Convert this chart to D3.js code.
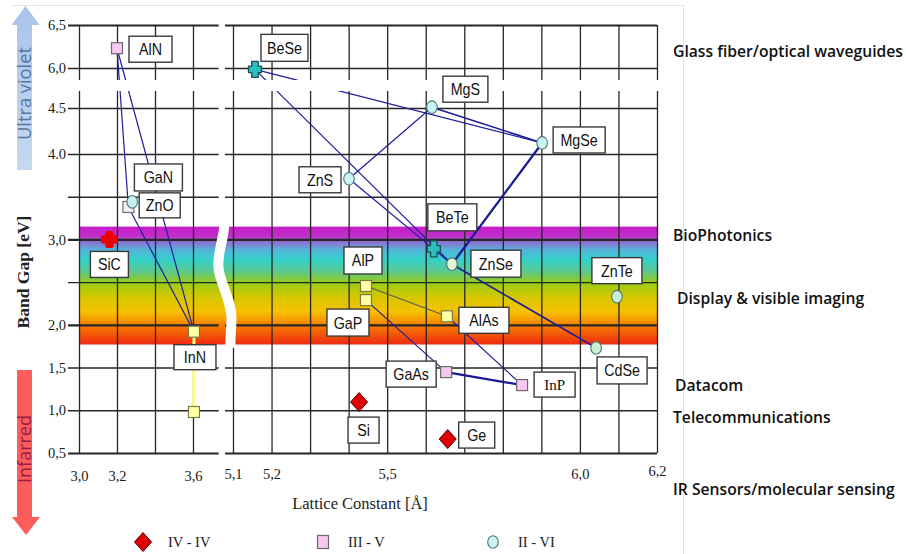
<!DOCTYPE html>
<html>
<head>
<meta charset="utf-8">
<script src="https://cdn.jsdelivr.net/npm/d3@7"></script>
<style>
  body { margin: 0; background: #fff; }
  svg { display: block; }
</style>
</head>
<body>
<svg id="chart" width="906" height="554"></svg>
<script>
// ---------------- data ----------------
const materialIds = ["AlN","GaN","ZnO","SiC","InN","InN_low","BeSe","MgS","MgSe","ZnS","BeTe","ZnSe","ZnTe","CdSe","AlP","GaP","AlAs","GaAs","InP","Si","Ge"];
const materialLabels = ["AlN","GaN","ZnO","SiC","InN","","BeSe","MgS","MgSe","ZnS","BeTe","ZnSe","ZnTe","CdSe","AlP","GaP","AlAs","GaAs","InP","Si","Ge"];
const latticeConstant = [3.20,3.26,3.28,3.16,3.605,3.605,5.157,5.616,5.902,5.401,5.621,5.668,6.096,6.042,5.445,5.445,5.655,5.653,5.85,5.427,5.657];
const bandGap = [6.23,3.38,3.44,3.00,1.92,0.98,5.95,4.53,4.12,3.71,2.89,2.71,2.33,1.73,2.455,2.29,2.10,1.447,1.295,1.096,0.663];
const group = ["III-V","III-V","II-VI","IV-IV","III-V","III-V","II-VI","II-VI","II-VI","II-VI","II-VI","II-VI","II-VI","II-VI","III-V","III-V","III-V","III-V","III-V","IV-IV","IV-IV"];

// ternary alloy tie lines between binaries
const alloyPairs = [
  ["AlN","GaN"],["AlN","InN"],["GaN","InN"],
  ["BeSe","MgSe"],["BeSe","ZnSe"],["MgS","MgSe"],["MgS","ZnS"],["ZnS","ZnSe"],
  ["MgSe","ZnSe"],["ZnSe","CdSe"],
  ["AlP","AlAs"],["GaP","GaAs"],["AlAs","InP"],["GaAs","InP"]
];
const bowingPair = ["InN","InN_low"];

const visibleBand = [1.77, 3.15];   // eV

const yTicks = [0.5,1.0,1.5,2.0,2.5,3.0,3.5,4.0,4.5,6.0,6.5];
const yTickLabels = ["0,5","1,0","1,5","2,0","","3,0","","4.0","4.5","6,0","6,5"];
const xTicksLeft = [3.0,3.2,3.4,3.6];
const xTickLabelsLeft = ["3,0","3,2","","3,6"];
const xTicksRight = [5.1,5.2,5.3,5.4,5.5,5.6,5.7,5.8,5.9,6.0,6.1,6.2];
const xTickLabelsRight = ["5,1","5,2","","","5,5","","","","","6,0","","6,2"];

const applications = ["Glass fiber/optical waveguides","BioPhotonics","Display & visible imaging","Datacom","Telecommunications","IR Sensors/molecular sensing"];
const legendGroups = ["IV - IV","III - V","II - VI"];

// ---------------- layout & styles ----------------
const SERIF = "'Liberation Serif', 'Times New Roman', serif";
const SANS = "'Liberation Sans', Arial, sans-serif";
const applicationLayout = [[673,57],[673,241],[677,304],[675,391],[673,423],[673,495]];
// label box: dx, dy (box centre from marker), width, height
const labelLayout = {
  AlN:[33.5,1,43,26], GaN:[30,-29.5,48,27], ZnO:[27.5,3.5,41,25], SiC:[0,25,38,26],
  InN:[1,25.5,42,25], BeSe:[29.5,-21.5,47,27], MgS:[33.5,-18,45,26], MgSe:[37,-3,52,26],
  ZnS:[-29,1,42,26], BeTe:[18.5,-31.5,49,27], ZnSe:[44,-0.5,50,27], ZnTe:[0,-26,50,26],
  AlP:[-3,-25.5,38,27], GaP:[-18,22.5,42,27], AlAs:[37,4,50,26], GaAs:[-35,2,50,26],
  InP:[32.5,-0.5,41,25], CdSe:[26,22.5,50,27], Si:[4.5,28,31,26], Ge:[29,-4,36,26]
};
const markerStyle = {
  AlN:["square","#f9c8f1","#6a6a6a"], GaN:["square","#f6eef6","#707070"],
  ZnO:["circle","#c6f1f1","#4e7474"], SiC:["blob","#ff0000","#ee0000"],
  InN:["square","#ffffa6","#7a7a48"], InN_low:["square","#ffffa6","#7a7a48"],
  BeSe:["cross","#2dbfbf","#1d4f4f"], BeTe:["cross","#2dbfbf","#1d4f4f"],
  MgS:["circle","#c8f4f4","#4e7474"], MgSe:["circle","#c8f4f4","#4e7474"],
  ZnS:["circle","#c8f4f4","#4e7474"], ZnSe:["circle","#e2f6d6","#4e7474"],
  ZnTe:["circle","#c9eed4","#4e7474"], CdSe:["circle","#c9eed4","#4e7474"],
  AlP:["square","#ffffa6","#7a7a48"], GaP:["square","#ffffa6","#7a7a48"],
  AlAs:["square","#ffffa6","#7a7a48"], GaAs:["square","#f9c8f1","#6a6a6a"],
  InP:["square","#f9c8f1","#6a6a6a"], Si:["diamond","#e00000","#4a0000"],
  Ge:["diamond","#e00000","#4a0000"]
};
const lineStyle = {
  "MgSe-ZnSe":["#1a1a96",2.3], "GaAs-InP":["#1a1a96",2.2], "ZnSe-CdSe":["#1a1a96",1.6],
  "MgS-MgSe":["#1a1a96",1.5], "AlP-AlAs":["#5a5a5a",1.1]
};

// ---------------- scales ----------------
const svg = d3.select("#chart");
const xL = d3.scaleLinear().domain([3.0, 3.6]).range([79, 193]);
const xR = d3.scaleLinear().domain([5.1, 6.2]).range([233, 657]);
// broken energy axis: compressed between 4.5 and 6.0 eV
const y = d3.scaleLinear().domain([0.5, 4.0, 4.5, 6.0, 6.5]).range([453, 154, 108, 68, 25]);
const xOf = a => a < 4 ? xL(a) : xR(a);

const byId = {};
materialIds.forEach((id, i) => byId[id] = { id, label: materialLabels[i], a: latticeConstant[i], e: bandGap[i], g: group[i] });
const px = id => xOf(byId[id].a);
const py = id => y(byId[id].e);

// fit a text element to a given length by scaling its font size
function fitFont(sel, basePx, targetLen) {
  sel.style("font-size", basePx + "px");
  const n = sel.node().getComputedTextLength();
  if (n > 0) sel.style("font-size", (basePx * targetLen / n) + "px");
  return sel;
}

// ---------------- frame ----------------
svg.append("line").attr("x1",12).attr("x2",683).attr("y1",5.5).attr("y2",5.5).attr("stroke","#e4e4e4");
svg.append("line").attr("x1",683.5).attr("x2",683.5).attr("y1",5).attr("y2",554).attr("stroke","#e4e4e4");

// ---------------- visible spectrum band ----------------
const defs = svg.append("defs");
const grad = defs.append("linearGradient").attr("id","spectrum").attr("x1",0).attr("x2",0).attr("y1",0).attr("y2",1);
[[0,"#c61cc9"],[0.08,"#c22ec9"],[0.13,"#8f6fd2"],[0.2,"#52b6d8"],[0.28,"#33d0cb"],[0.38,"#5cc98e"],
 [0.48,"#99cc12"],[0.6,"#d6c700"],[0.72,"#f6c200"],[0.84,"#f67d00"],[1,"#f02a12"]]
  .forEach(([o,c]) => grad.append("stop").attr("offset",o).attr("stop-color",c));
svg.append("rect")
  .attr("x", xL(3.0)).attr("width", xR(6.2) - xL(3.0))
  .attr("y", y(visibleBand[1])).attr("height", y(visibleBand[0]) - y(visibleBand[1]))
  .attr("fill","url(#spectrum)");

// ---------------- grid & axes ----------------
const gridColor = "#262626";
const thick = new Set([6.5, 3.0, 2.0, 0.5]);
function styleAxis(g) {
  g.attr("font-family", null);
  g.select(".domain").remove();
  g.selectAll("line").attr("stroke", gridColor).attr("stroke-width", 1.3);
  g.selectAll("text").style("font-family", SERIF).style("font-size","14.5px").attr("fill","#1a1a1a");
}
const leftEnd = xL(3.735);
const gyL = svg.append("g").attr("transform","translate(68,0)")
  .call(d3.axisLeft(y).tickValues(yTicks).tickFormat((d,i)=>yTickLabels[i]).tickSizeInner(-(leftEnd-68)).tickSizeOuter(0).tickPadding(2));
styleAxis(gyL);
const gyR = svg.append("g").attr("transform","translate(225,0)")
  .call(d3.axisLeft(y).tickValues(yTicks).tickFormat("").tickSizeInner(-(xR(6.2)-225)).tickSizeOuter(0));
styleAxis(gyR);
[gyL, gyR].forEach(g => g.selectAll(".tick line").attr("stroke-width", d => thick.has(d) ? 2.2 : 1.4));

const gxL = svg.append("g").attr("transform","translate(0,453)")
  .call(d3.axisBottom(xL).tickValues(xTicksLeft).tickFormat((d,i)=>xTickLabelsLeft[i]).tickSizeInner(-(453-25)).tickSizeOuter(0).tickPadding(18));
styleAxis(gxL);
const gxR = svg.append("g").attr("transform","translate(0,453)")
  .call(d3.axisBottom(xR).tickValues(xTicksRight).tickFormat((d,i)=>xTickLabelsRight[i]).tickSizeInner(-(453-25)).tickSizeOuter(0).tickPadding(16));
styleAxis(gxR);
gxR.selectAll(".tick text").attr("dy", d => d === 6.2 ? "0.45em" : "0.71em");

// ---------------- tie lines ----------------
const lines = svg.append("g");
alloyPairs.forEach(([a,b]) => {
  const st = lineStyle[a+"-"+b] || ["#1e1e9c",1.2];
  lines.append("line")
    .attr("x1",px(a)).attr("y1",py(a)).attr("x2",px(b)).attr("y2",py(b))
    .attr("stroke",st[0]).attr("stroke-width",st[1]);
});
lines.insert("line",":first-child")
  .attr("x1",px(bowingPair[0])).attr("y1",py(bowingPair[0]))
  .attr("x2",px(bowingPair[1])).attr("y2",py(bowingPair[1]))
  .attr("stroke","#ffff88").attr("stroke-width",3);

// ---------------- axis breaks ----------------
svg.append("rect").attr("x",60).attr("y",80).attr("width",605).attr("height",11).attr("fill","#fff");
svg.append("path")
  .attr("d","M224.5,222 C224.5,238 217,252 218.5,268 C220,284 232,300 231.5,320 C231,334 230,340 230.5,348")
  .attr("fill","none").attr("stroke","#fff").attr("stroke-width",10);

// ---------------- markers ----------------
const crossPath = (w,h,t) => `M${-t/2},${-h/2}H${t/2}V${-t/2}H${w/2}V${t/2}H${t/2}V${h/2}H${-t/2}V${t/2}H${-w/2}V${-t/2}H${-t/2}Z`;
function drawMarker(g, kind, fill, stroke, cx, cy) {
  if (kind === "square") {
    g.append("rect").attr("x",cx-5.5).attr("y",cy-5.5).attr("width",11).attr("height",11)
      .attr("fill",fill).attr("stroke",stroke).attr("stroke-width",1.2);
  } else if (kind === "circle") {
    g.append("ellipse").attr("cx",cx).attr("cy",cy).attr("rx",5.3).attr("ry",6.3)
      .attr("fill",fill).attr("stroke",stroke).attr("stroke-width",1.1);
  } else if (kind === "cross") {
    g.append("path").attr("d",crossPath(13,16,6.5)).attr("transform",`translate(${cx},${cy})`)
      .attr("fill",fill).attr("stroke",stroke).attr("stroke-width",1.3).attr("stroke-linejoin","round");
  } else if (kind === "blob") {
    g.append("path").attr("d",d3.symbol(d3.symbolCross,95)()).attr("transform",`translate(${cx},${cy})`)
      .attr("fill",fill).attr("stroke",stroke).attr("stroke-width",4).attr("stroke-linejoin","round");
  } else if (kind === "diamond") {
    g.append("path").attr("d","M0,-9.5L8.5,0L0,9.5L-8.5,0Z").attr("transform",`translate(${cx},${cy})`)
      .attr("fill",fill).attr("stroke",stroke).attr("stroke-width",1);
  }
}
const markers = svg.append("g");
materialIds.forEach(id => {
  const [kind, fill, stroke] = markerStyle[id];
  drawMarker(markers, kind, fill, stroke, px(id), py(id));
});

// ---------------- material labels ----------------
const labels = svg.append("g");
materialIds.forEach(id => {
  const m = byId[id];
  if (!m.label) return;
  const [dx, dy, w, h] = labelLayout[id];
  const cx = px(id) + dx, cy = py(id) + dy;
  labels.append("rect").attr("x",cx-w/2).attr("y",cy-h/2).attr("width",w).attr("height",h)
    .attr("fill","#fff").attr("stroke","#3a3a3a").attr("stroke-width",1.4);
  const serif = id === "InP";
  const t = labels.append("text").text(m.label)
    .attr("x",cx).attr("y",cy + (serif ? 5 : 6))
    .attr("text-anchor","middle")
    .style("font-family", serif ? SERIF : SANS)
    .style("font-size", serif ? "15px" : "17px")
    .attr("fill","#111");
  if (!serif) {
    const natural = t.node().getComputedTextLength();
    t.attr("textLength", natural*0.84).attr("lengthAdjust","spacingAndGlyphs");
  }
});

// ---------------- axis titles ----------------
svg.append("text").text("Lattice Constant [Å]")
  .attr("x",360).attr("y",509).attr("text-anchor","middle")
  .style("font-family",SERIF).style("font-size","16.5px").attr("fill","#222");
svg.append("text").text("Band Gap [eV]")
  .attr("transform","translate(29,272) rotate(-90)").attr("text-anchor","middle")
  .style("font-family",SERIF).style("font-weight","bold").style("font-size","17.5px").attr("fill","#222");

// ---------------- spectral arrows ----------------
const uvGrad = defs.append("linearGradient").attr("id","uvArrow").attr("x1",0).attr("x2",0).attr("y1",0).attr("y2",1);
uvGrad.append("stop").attr("offset",0).attr("stop-color","#a9c4ea");
uvGrad.append("stop").attr("offset",1).attr("stop-color","#c6d8ef");
svg.append("path").attr("d","M25.5,6 L39.5,25 L32,25 L32,170 L17,170 L17,25 L11.5,25 Z").attr("fill","url(#uvArrow)");
const uvText = svg.append("text").text("Ultra violet")
  .attr("transform","translate(31,93.5) rotate(-90)").attr("text-anchor","middle")
  .style("font-family","'Open Sans', sans-serif").attr("fill","#55769e");
fitFont(uvText, 16, 93);
svg.append("path").attr("d","M17,370 L32,370 L32,517 L40,517 L26,535 L12,517 L17,517 Z").attr("fill","#ff5c5c");
const irText = svg.append("text").text("Infarred")
  .attr("transform","translate(31,449) rotate(-90)").attr("text-anchor","middle")
  .style("font-family","'Open Sans', sans-serif").attr("fill","#9a1c48");
fitFont(irText, 16, 68);

// ---------------- application labels ----------------
applications.forEach((txt, i) => {
  svg.append("text").text(txt)
    .attr("x",applicationLayout[i][0]).attr("y",applicationLayout[i][1])
    .style("font-family","'Open Sans', sans-serif").style("font-weight","600").style("font-size","15.7px").attr("fill","#111");
});

// ---------------- legend ----------------
const legend = svg.append("g");
const legendMarkers = [["diamond","#e00000","#4a0000"],["square","#f9c8f1","#6a6a6a"],["circle","#ccf5f2","#4e7474"]];
const legendX = [143, 323, 493];
legendGroups.forEach((name, i) => {
  const [kind, fill, stroke] = legendMarkers[i];
  if (kind === "square") {
    legend.append("rect").attr("x",legendX[i]-5.5).attr("y",542-6.5).attr("width",11).attr("height",13)
      .attr("fill",fill).attr("stroke",stroke).attr("stroke-width",1.2);
  } else {
    drawMarker(legend, kind, fill, stroke, legendX[i], 542);
  }
  legend.append("text").text(name)
    .attr("x",legendX[i]+25).attr("y",547)
    .style("font-family",SERIF).style("font-size","14.5px").attr("fill","#222");
});
</script>
</body>
</html>
